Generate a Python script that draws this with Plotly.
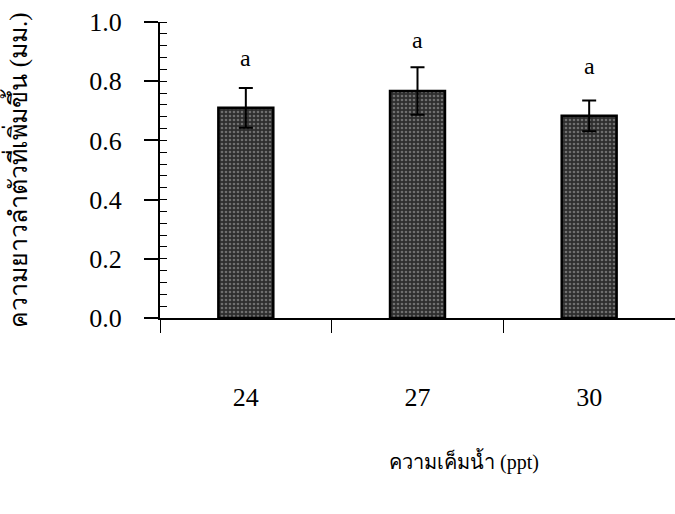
import plotly.graph_objects as go

salinity = ["24", "27", "30"]
length_gain = [0.71, 0.767, 0.683]
se = [0.067, 0.08, 0.052]
letters = ["a", "a", "a"]
letter_y = [0.878, 0.94, 0.85]

serif = "Liberation Serif, Times New Roman, serif"

fig = go.Figure()
fig.add_trace(go.Bar(
    x=salinity, y=length_gain, width=0.32,
    marker=dict(color="#3a3a3a", line=dict(color="black", width=2.5),
                pattern=dict(shape=".", bgcolor="#2e2e2e", fgcolor="#b0b0b0", size=4, solidity=0.35)),
    error_y=dict(type="data", array=se, visible=True, color="black", thickness=2, width=7),
    showlegend=False,
))
for i, (t, yy) in enumerate(zip(letters, letter_y)):
    fig.add_annotation(x=i, y=yy, text=t, showarrow=False,
                       font=dict(family=serif, size=24, color="black"))

pa_w = 675 - 160
pa_h = 514 - 22 - 196
fig.add_annotation(xref="paper", yref="paper",
                   x=(464 - 160) / pa_w, y=(318 - 461) / pa_h,
                   xanchor="center", yanchor="middle",
                   text="ความเค็มน้ำ (ppt)", showarrow=False,
                   font=dict(family=serif, size=20, color="black"))

fig.update_layout(
    width=675, height=514,
    margin=dict(l=160, r=0, t=22, b=196),
    plot_bgcolor="white", paper_bgcolor="white",
    xaxis=dict(type="category", range=[-0.5, 2.5], tickson="boundaries",
               showline=True, linecolor="black", linewidth=2,
               ticks="outside", ticklen=13, tickcolor="black", tickwidth=1,
               ticklabelstandoff=55, showgrid=False, zeroline=False,
               tickfont=dict(family=serif, size=26, color="black")),
    yaxis=dict(range=[0, 1], dtick=0.2, tickformat=".1f",
               showline=True, linecolor="black", linewidth=2,
               ticks="outside", ticklen=14, tickcolor="black", tickwidth=1.5,
               ticklabelstandoff=17, showgrid=False, zeroline=False,
               minor=dict(dtick=0.04, ticks="inside", ticklen=7, tickcolor="black", tickwidth=1),
               tickfont=dict(family=serif, size=26, color="black"),
               title=dict(text="ความยาวลำตัวที่เพิ่มขึ้น (มม.)", standoff=62,
                          font=dict(family=serif, size=25, color="black"))),
)

fig.write_html("out.html", config={"displayModeBar": False},
               post_script="document.body.style.margin='0';document.body.style.overflow='hidden';")
